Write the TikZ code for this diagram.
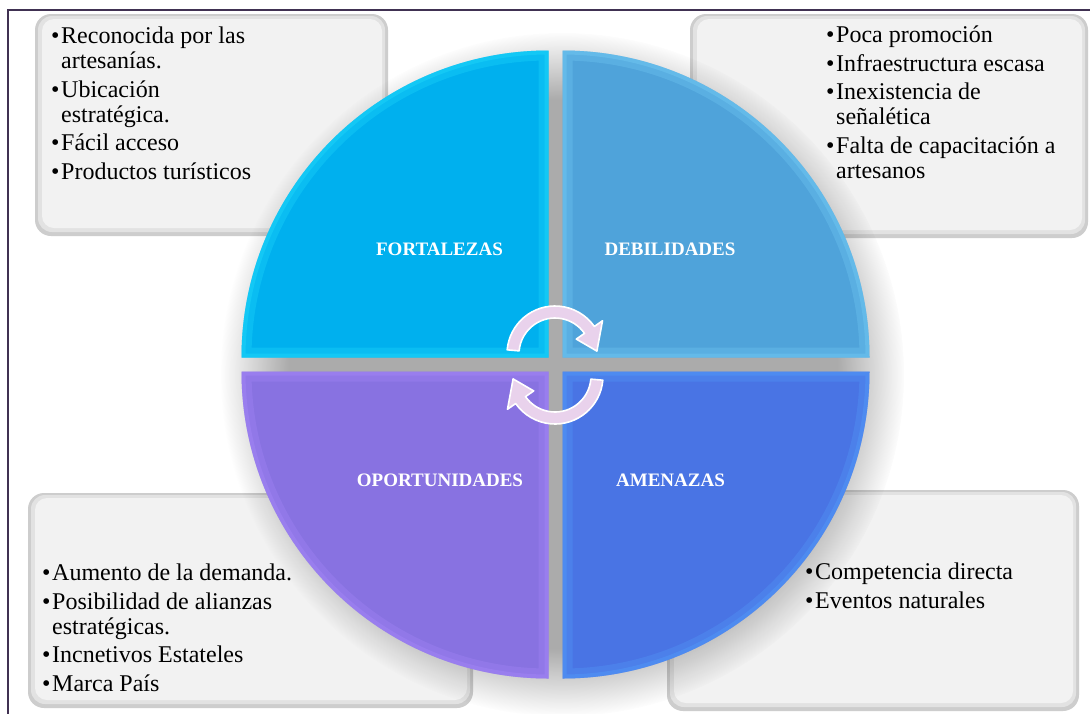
\documentclass[tikz,border=0pt]{standalone}
\usepackage{fontspec}
\setmainfont{Liberation Serif}
\usetikzlibrary{fadings}

\definecolor{framecol}{RGB}{64,49,82}
\definecolor{boxedge}{RGB}{205,205,205}
\definecolor{boxmid}{RGB}{226,226,226}
\definecolor{boxfill}{RGB}{242,242,242}
\definecolor{fortcol}{RGB}{0,176,238}
\definecolor{fortrim}{RGB}{40,228,255}
\definecolor{debcol}{RGB}{79,163,218}
\definecolor{debrim}{RGB}{125,212,250}
\definecolor{oporcol}{RGB}{136,114,225}
\definecolor{oporrim}{RGB}{172,140,255}
\definecolor{amencol}{RGB}{73,116,228}
\definecolor{amenrim}{RGB}{85,165,255}
\definecolor{cyclecol}{RGB}{233,210,236}

\newcommand{\bul}{\makebox[10pt][l]{\textbullet}}
\newcommand{\quadTL}{(548.5,357.5) -- ++(-307,0) arc[start angle=180, end angle=270, radius=307] -- cycle}
\newcommand{\quadTR}{(562.5,357.5) -- ++(0,-307) arc[start angle=270, end angle=360, radius=307] -- cycle}
\newcommand{\quadBR}{(562.5,371.5) -- ++(307,0) arc[start angle=0, end angle=90, radius=307] -- cycle}
\newcommand{\quadBL}{(548.5,371.5) -- ++(0,307) arc[start angle=90, end angle=180, radius=307] -- cycle}
\newcommand{\cyclepath}{(-175:48) arc[start angle=-175, end angle=-35, radius=48] -- (-35:58) -- (-4:42) -- (-35:26) -- (-35:36) arc[start angle=-35, end angle=-175, radius=36] -- cycle}

\tikzset{
  swotbox/.style={fill=boxedge, rounded corners=16pt},
  swotmid/.style={fill=boxmid, rounded corners=14pt},
  swotinner/.style={fill=boxfill, rounded corners=12pt},
  itemtext/.style={anchor=base west, inner sep=0pt, font=\fontsize{24}{25}\selectfont},
  quadlabel/.style={anchor=base, inner sep=0pt, text=white, font=\fontsize{19}{20}\selectfont\bfseries},
  bevel/.style={line width=20pt, opacity=0.25},
  bevelin/.style={line width=8pt, opacity=0.3},
  cyclearrow/.style={fill=cyclecol, draw=white, line width=1.6pt, line join=round},
}

\begin{document}
\begin{tikzpicture}[x=1pt,y=1pt,yscale=-1,xscale=1]
\useasboundingbox (0,0) rectangle (1090,713);
\clip (0,0) rectangle (1090,713);
\fill[white] (0,0) rectangle (1090,713);

%Shape: Frame
\draw[framecol, line width=1.5pt] (8,10) rectangle (1120,740);

%Shape: Rounded boxes
\fill[swotbox] (35,14) rectangle (388,236);
\fill[swotmid] (38,16) rectangle (385,232);
\fill[swotinner] (42,19) rectangle (382,228);
\fill[swotbox] (690,14) rectangle (1088,238);
\fill[swotmid] (693,16) rectangle (1085,234);
\fill[swotinner] (697,19) rectangle (1082,230);
\fill[swotbox] (28,493) rectangle (473,708);
\fill[swotmid] (31,495) rectangle (470,704);
\fill[swotinner] (35,498) rectangle (467,700);
\fill[swotbox] (667,490) rectangle (1079,711);
\fill[swotmid] (670,492) rectangle (1076,707);
\fill[swotinner] (674,495) rectangle (1073,703);

%Shape: Shadow of the circle
\fill[black, opacity=0.33, path fading=circle with fuzzy edge 20 percent] (563,374) circle (342);

%Shape: Quarter circles
\fill[fortcol] \quadTL;
\begin{scope}
\clip \quadTL;
\draw[fortrim, bevel] \quadTL;
\draw[fortrim, bevelin] \quadTL;
\end{scope}
\fill[debcol] \quadTR;
\begin{scope}
\clip \quadTR;
\draw[debrim, bevel] \quadTR;
\draw[debrim, bevelin] \quadTR;
\end{scope}
\fill[amencol] \quadBR;
\begin{scope}
\clip \quadBR;
\draw[amenrim, bevel] \quadBR;
\draw[amenrim, bevelin] \quadBR;
\end{scope}
\fill[oporcol] \quadBL;
\begin{scope}
\clip \quadBL;
\draw[oporrim, bevel] \quadBL;
\draw[oporrim, bevelin] \quadBL;
\end{scope}

% Text Node
\node[quadlabel] (fortalezas) at (439.5,255) {FORTALEZAS};
% Text Node
\node[quadlabel] (debilidades) at (670,255) {DEBILIDADES};
% Text Node
\node[quadlabel] (oportunidades) at (440,486) {OPORTUNIDADES};
% Text Node
\node[quadlabel] (amenazas) at (670.5,486) {AMENAZAS};

%Shape: Circular arrows
\draw[cyclearrow, shift={(555,354)}] \cyclepath;
\draw[cyclearrow, shift={(555,376)}, rotate=180] \cyclepath;

% Text Node
\node[itemtext] (fortlist) at (51,43.5) {\begin{tabular}[t]{@{}l@{}l@{}}
\bul & Reconocida por las\\ & artesanías.\\[3.5pt]
\bul & Ubicación\\ & estratégica.\\[3.5pt]
\bul & Fácil acceso\\[3.5pt]
\bul & Productos turísticos
\end{tabular}};
% Text Node
\node[itemtext] (deblist) at (826,42.5) {\begin{tabular}[t]{@{}l@{}l@{}}
\bul & Poca promoción\\[3.5pt]
\bul & Infraestructura escasa\\[3.5pt]
\bul & Inexistencia de\\ & señalética\\[3.5pt]
\bul & Falta de capacitación a\\ & artesanos
\end{tabular}};
% Text Node
\node[itemtext] (oporlist) at (42,580.5) {\begin{tabular}[t]{@{}l@{}l@{}}
\bul & Aumento de la demanda.\\[3.5pt]
\bul & Posibilidad de alianzas\\ & estratégicas.\\[3.5pt]
\bul & Incnetivos Estateles\\[3.5pt]
\bul & Marca País
\end{tabular}};
% Text Node
\node[itemtext] (amenlist) at (805,579.5) {\begin{tabular}[t]{@{}l@{}l@{}}
\bul & Competencia directa\\[3.5pt]
\bul & Eventos naturales
\end{tabular}};

\end{tikzpicture}
\end{document}
